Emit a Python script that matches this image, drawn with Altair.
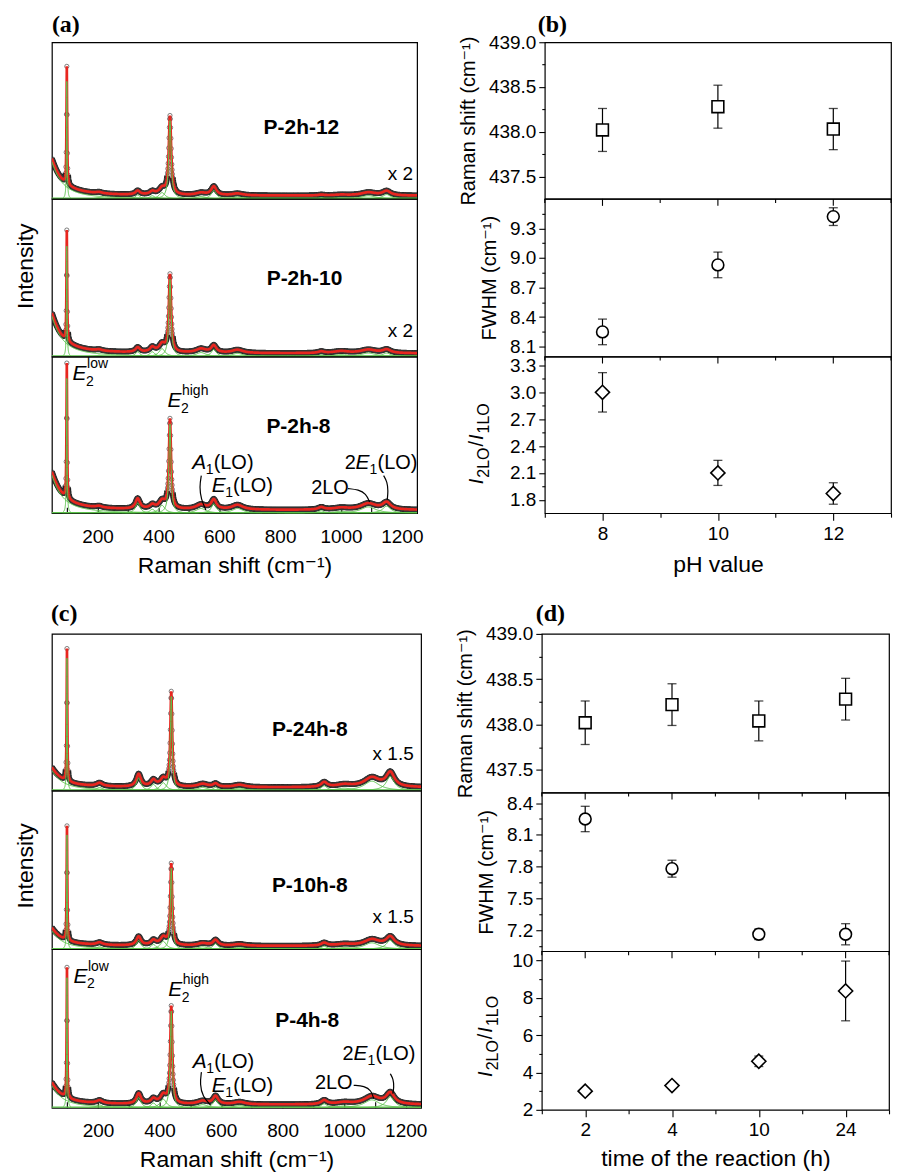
import altair as alt
import numpy as np
import pandas as pd

SANS = "Liberation Sans, Arial, DejaVu Sans, sans-serif"
SERIF = "Liberation Serif, Times New Roman, serif"
RED = "#e8261f"
GREEN = "#5cc24c"

# ---------------- Raman spectra: Lorentzian fit components ----------------
# centre (cm-1) and half width (cm-1); None -> E2(high) width = FWHM/2 from panels (b)/(d)
peak_center = [20, 99, 205, 332, 380, 412, 438, 540, 582, 660, 935, 1000, 1090, 1150]
peak_hwhm = [40, 1.2, 12, 9, 10, 12, None, 20, 10, 22, 12, 30, 30, 16]

# amplitudes as fraction of the sub-panel height
amp_2h12 = [0.37, 0.75, 0.008, 0.025, 0.02, 0.04, 0.50, 0.015, 0.055, 0.012, 0.005, 0.005, 0.02, 0.028]
amp_2h10 = [0.40, 0.70, 0.008, 0.03, 0.03, 0.05, 0.49, 0.025, 0.045, 0.02, 0.01, 0.012, 0.022, 0.022]
amp_2h8 = [0.38, 0.86, 0.01, 0.065, 0.025, 0.05, 0.57, 0.03, 0.06, 0.03, 0.015, 0.012, 0.04, 0.045]
amp_24h8 = [0.20, 0.845, 0.02, 0.08, 0.04, 0.05, 0.60, 0.02, 0.02, 0.015, 0.03, 0.015, 0.06, 0.09]
amp_10h8 = [0.18, 0.72, 0.015, 0.055, 0.03, 0.05, 0.51, 0.015, 0.035, 0.01, 0.018, 0.01, 0.04, 0.055]
amp_4h8 = [0.22, 0.82, 0.018, 0.065, 0.03, 0.055, 0.61, 0.02, 0.05, 0.015, 0.025, 0.012, 0.05, 0.07]
base_level = 0.02

# ---------------- panel (b): pH series ----------------
ph_values = [8, 10, 12]
ph_ticks_major = [8, 10, 12]
ph_ticks_minor = [7, 9, 11, 13]
ph_shift = [438.02, 438.28, 438.03]
ph_shift_err = [0.24, 0.24, 0.23]
ph_fwhm = [8.25, 8.93, 9.42]
ph_fwhm_err = [0.13, 0.13, 0.09]
ph_ratio = [3.00, 2.10, 1.87]
ph_ratio_err = [0.22, 0.14, 0.12]

# ---------------- panel (d): reaction-time series ----------------
time_labels = ["2", "4", "10", "24"]
time_pos = [1, 2, 3, 4]
time_ticks_minor = [0.5, 1.5, 2.5, 3.5, 4.5]
t_shift = [438.02, 438.22, 438.04, 438.28]
t_shift_err = [0.24, 0.23, 0.22, 0.23]
t_fwhm = [8.25, 7.78, 7.16, 7.16]
t_fwhm_err = [0.12, 0.08, 0.05, 0.10]
t_ratio = [3.0, 3.3, 4.6, 8.37]
t_ratio_err = [0.12, 0.12, 0.28, 1.6]

spectra = {
    "P-2h-12": (amp_2h12, ph_fwhm[2]),
    "P-2h-10": (amp_2h10, ph_fwhm[1]),
    "P-2h-8": (amp_2h8, ph_fwhm[0]),
    "P-24h-8": (amp_24h8, t_fwhm[3]),
    "P-10h-8": (amp_10h8, t_fwhm[2]),
    "P-4h-8": (amp_4h8, t_fwhm[1]),
}

X_DOM = [50, 1250]
x_grid = np.arange(50.0, 1250.0 + 0.01, 1.0)


def lor(x, c, w, h):
    return h / (1.0 + ((x - c) / w) ** 2)


def fit_parts(name):
    amps, fw = spectra[name]
    widths = [fw / 2.0 if w is None else w for w in peak_hwhm]
    total = np.full_like(x_grid, base_level)
    comps = []
    for i, (c, w, h) in enumerate(zip(peak_center, widths, amps)):
        total = total + lor(x_grid, c, w, h)
        lo, hi = max(50.0, c - 10 * w), min(1250.0, c + 10 * w)
        xs = np.arange(lo, hi + 1e-9, min(w / 5.0, 2.0))
        comps.append(pd.DataFrame({"x": xs.round(2), "y": lor(xs, c, w, h).round(4), "comp": i}))
    obs = pd.DataFrame({"x": x_grid, "y": total.round(4)})
    # dark band of overlapping data points: broken at the two sharp E2 lines
    steep = (np.abs(x_grid - 99) < 4) | (np.abs(x_grid - 438) < 9)
    seg = np.cumsum(np.r_[0, np.diff(steep.astype(int)) != 0])
    band = obs[~steep].assign(seg=seg[~steep])
    return obs, band, pd.concat(comps, ignore_index=True)


ONE = pd.DataFrame({"a": [0]})


def letter(txt, dx, dy):
    return alt.Chart(ONE).mark_text(text=txt, font=SERIF, fontSize=24, fontWeight="bold",
                                    align="left", baseline="alphabetic", color="black").encode(
        x=alt.value(dx), y=alt.value(dy))


# annotation pieces: (text, dx px, dy px, style)
piece_defs = {
    "E2low": [("E", 0, 0, "it"), ("2", 13.5, 6, "sm"), ("low", 14.5, -12, "sm")],
    "E2high": [("E", 0, 0, "it"), ("2", 13.5, 6, "sm"), ("high", 14.5, -12, "sm")],
    "A1LO": [("A", 0, 0, "it"), ("1", 13.5, 5, "sm"), ("(LO)", 21.5, 0, "rg")],
    "E1LO": [("E", 0, 0, "it"), ("1", 13.5, 5, "sm"), ("(LO)", 21.5, 0, "rg")],
    "2LO": [("2LO", 0, 0, "rg")],
    "2E1LO": [("2", 0, 0, "rg"), ("E", 11, 0, "it"), ("1", 25, 5, "sm"), ("(LO)", 33, 0, "rg")],
}
anchors_a = {"E2low": (118, 0.85), "E2high": (430, 0.677), "A1LO": (511, 0.285),
             "E1LO": (575, 0.136), "2LO": (902, 0.121), "2E1LO": (1012, 0.285)}
anchors_c = {"E2low": (120, 0.79), "E2high": (428, 0.707), "A1LO": (508, 0.251),
             "E1LO": (570, 0.10), "2LO": (905, 0.121), "2E1LO": (995, 0.30)}
leaders_a = [[(541, 0.24), (535, 0.17), (540, 0.09), (556, 0.02)],
             [(1023, 0.157), (1058, 0.150), (1082, 0.125), (1094, 0.072)],
             [(1140, 0.24), (1152, 0.20), (1155, 0.14), (1152, 0.085)]]
leaders_c = [[(536, 0.225), (531, 0.15), (540, 0.07), (566, 0.017)],
             [(1031, 0.142), (1066, 0.138), (1088, 0.11), (1096, 0.059)],
             [(1150, 0.215), (1160, 0.18), (1162, 0.13), (1158, 0.09)]]


def spectrum_panel(name, sc_label, name_pos, sc_pos, width, height, xaxis=None, yaxis=None,
                   anchors=None, leaders=None, let=None):
    obs, band, comps = fit_parts(name)
    X = alt.X("x:Q", scale=alt.Scale(domain=X_DOM, nice=False, zero=False), axis=xaxis)
    Y = alt.Y("y:Q", scale=alt.Scale(domain=[0, 1], nice=False, zero=False), axis=yaxis)
    layers = [
        alt.Chart(band).mark_line(color="#1c1c1c", strokeWidth=6, clip=True).encode(
            x=X, y=Y, detail="seg:N"),
        alt.Chart(obs).mark_point(shape="circle", size=18, filled=False, color="#3a3a3a",
                                  strokeWidth=0.7, opacity=0.9, clip=True).encode(x=X, y=Y),
        alt.Chart(pd.DataFrame({"y": [0.004]})).mark_rule(color=GREEN, strokeWidth=1.3).encode(y=Y),
        alt.Chart(obs).mark_line(color=RED, strokeWidth=2.7, clip=True).encode(x=X, y=Y),
        alt.Chart(comps).mark_line(color=GREEN, strokeWidth=1.0, clip=True).encode(
            x=X, y=Y, detail="comp:N"),
        alt.Chart(pd.DataFrame({"x": [name_pos[0]], "y": [name_pos[1]], "t": [name]})).mark_text(
            font=SANS, fontSize=21, fontWeight="bold", align="center", baseline="middle",
            color="black").encode(x=X, y=Y, text="t:N"),
    ]
    if sc_label:
        layers.append(alt.Chart(pd.DataFrame({"x": [sc_pos[0]], "y": [sc_pos[1]], "t": [sc_label]})).mark_text(
            font=SANS, fontSize=19, align="right", baseline="middle", color="black").encode(
            x=X, y=Y, text="t:N"))
    if anchors:
        rows = []
        for key, (ax, ay) in anchors.items():
            for txt, dx, dy, st in piece_defs[key]:
                rows.append({"x": ax + dx * 1200.0 / width, "y": ay - dy / height, "t": txt, "st": st})
        adf = pd.DataFrame(rows)
        styles = {"it": dict(fontSize=21, fontStyle="italic"), "rg": dict(fontSize=20),
                  "sm": dict(fontSize=14)}
        for st, kw in styles.items():
            layers.append(alt.Chart(adf[adf.st == st]).mark_text(
                font=SANS, align="left", baseline="alphabetic", color="black", **kw).encode(
                x=X, y=Y, text="t:N"))
    if leaders:
        rows = []
        for i, pts in enumerate(leaders):
            for j, (lx, ly) in enumerate(pts):
                rows.append({"x": lx, "y": ly, "k": i, "o": j})
        layers.append(alt.Chart(pd.DataFrame(rows)).mark_line(
            color="black", strokeWidth=1.2, interpolate="basis").encode(
            x=X, y=Y, detail="k:N", order="o:Q"))
    if let:
        layers.append(letter(*let))
    return alt.layer(*layers).properties(width=width, height=height)


def spec_xaxis():
    return alt.Axis(values=list(range(100, 1201, 100)),
                    labelExpr="datum.value >= 200 && datum.value % 200 == 0 ? datum.label : ''",
                    tickSize={"expr": "-6"}, labelPadding=20, labelFontSize=19,
                    title="Raman shift (cm\u207b\u00b9)", titleFontSize=23, titlePadding=8, format="d")


def spec_yaxis(title_y):
    return alt.Axis(title="Intensity", labels=False, ticks=False, domain=False, titleFontSize=23,
                    titlePadding=14, titleY=title_y)


def spectra_block(names, scales, name_pos, sc_pos, width, heights, anchors, leaders, let, title_y):
    charts = []
    for i, nm in enumerate(names):
        charts.append(spectrum_panel(
            nm, scales[i], name_pos[i], sc_pos[i] if i < len(sc_pos) else None, width, heights[i],
            xaxis=spec_xaxis() if i == 2 else None,
            yaxis=spec_yaxis(title_y) if i == 1 else None,
            anchors=anchors if i == 2 else None,
            leaders=leaders if i == 2 else None,
            let=let if i == 0 else None))
    return alt.vconcat(*charts, spacing=0, bounds="flush")


# ---------------- scatter panels ----------------
def major_test(start, step):
    return (f"abs((datum.value - ({start})) / {step} - round((datum.value - ({start})) / {step})) < 0.01")


def y_axis(title, values, start, step, fmt):
    t = major_test(start, step)
    return alt.Axis(values=values, format=fmt, labelExpr=f"({t}) ? datum.label : ''",
                    tickSize={"condition": {"test": t, "value": 6}, "value": 3},
                    title=title, titleFontSize=20, titlePadding=10, labelFontSize=19, labelPadding=3)


def ratio_title(x_main, x_sub, y_start):
    pieces = [("I", "italic", 20, 0.278), ("2LO", "normal", 16, 1.89), ("/", "normal", 20, 0.278),
              ("I", "italic", 20, 0.278), ("1LO", "normal", 16, 1.89)]
    out = []
    y = y_start
    for txt, style, fs, em in pieces:
        xx = x_sub if fs == 16 else x_main
        out.append(alt.Chart(ONE).mark_text(text=txt, font=SANS, fontSize=fs, fontStyle=style, angle=270,
                                            align="left", baseline="alphabetic", color="black").encode(
            x=alt.value(xx), y=alt.value(y)))
        y -= em * fs + 1
    return out


def divider_ticks(X, major, minor):
    # x-axis ticks drawn where a panel meets the one above it
    out = []
    for vals, ln in ((major, 7), (minor, 4)):
        out.append(alt.Chart(pd.DataFrame({"x": vals})).mark_rule(color="black", strokeWidth=1.1).encode(
            x=X, y=alt.value(0), y2=alt.value(ln)))
    return out


def scatter_panel(xs, val, err, X, ydom, yaxis, shape, size, width, height, extra=()):
    df = pd.DataFrame({"x": xs, "v": val, "lo": np.subtract(val, err), "hi": np.add(val, err)})

    def Y(f):
        return alt.Y(f + ":Q", scale=alt.Scale(domain=ydom, nice=False, zero=False), axis=yaxis)
    base = alt.Chart(df)
    layers = [
        base.mark_rule(color="black", strokeWidth=1.2).encode(x=X, y=Y("lo"), y2="hi:Q"),
        base.mark_tick(orient="horizontal", size=9, thickness=1.3, color="black").encode(x=X, y=Y("lo")),
        base.mark_tick(orient="horizontal", size=9, thickness=1.3, color="black").encode(x=X, y=Y("hi")),
        base.mark_point(shape=shape, size=size, filled=True, fill="white", stroke="black",
                        strokeWidth=1.6, opacity=1).encode(x=X, y=Y("v")),
    ] + list(extra)
    return alt.layer(*layers).properties(width=width, height=height)


def frange(a, b, s):
    return [round(v, 3) for v in np.arange(a, b + s / 2, s)]


# panel (b)
Xb_none = alt.X("x:Q", scale=alt.Scale(domain=[7, 13], nice=False, zero=False), axis=None)
Xb_axis = alt.X("x:Q", scale=alt.Scale(domain=[7, 13], nice=False, zero=False), axis=alt.Axis(
    values=list(range(7, 14)), format="d", labelExpr="datum.value % 2 == 0 ? datum.label : ''",
    tickSize={"condition": {"test": "datum.value % 2 == 0", "value": 7}, "value": 4},
    title="pH value", titleFontSize=23, labelFontSize=19, labelPadding=4, titlePadding=10))
WB = 347
b1 = scatter_panel(ph_values, ph_shift, ph_shift_err, Xb_none, [437.25, 439.0],
                   y_axis("Raman shift (cm\u207b\u00b9)", frange(437.5, 439.0, 0.25), 437.5, 0.5, ".1f"),
                   "square", 140, WB, 157, extra=[letter("(b)", -7, -10)])
b2 = scatter_panel(ph_values, ph_fwhm, ph_fwhm_err, Xb_none, [8.0, 9.6],
                   y_axis("FWHM (cm\u207b\u00b9)", frange(8.1, 9.45, 0.15), 8.1, 0.3, ".1f"),
                   "circle", 140, WB, 158,
                   extra=divider_ticks(Xb_none, ph_ticks_major, ph_ticks_minor))
b3 = scatter_panel(ph_values, ph_ratio, ph_ratio_err, Xb_axis, [1.65, 3.4],
                   y_axis(None, frange(1.8, 3.3, 0.15), 1.8, 0.3, ".1f"),
                   "diamond", 200, WB, 157,
                   extra=ratio_title(-62, -56, 128) + divider_ticks(Xb_axis, ph_ticks_major, ph_ticks_minor))
panel_b = alt.vconcat(b1, b2, b3, spacing=0, bounds="flush")

# panel (d)
time_expr = " : ".join(f"datum.value == {p} ? '{l}'" for p, l in zip(time_pos, time_labels)) + " : ''"
Xd_none = alt.X("x:Q", scale=alt.Scale(domain=[0.5, 4.5], nice=False, zero=False), axis=None)
Xd_axis = alt.X("x:Q", scale=alt.Scale(domain=[0.5, 4.5], nice=False, zero=False), axis=alt.Axis(
    values=frange(0.5, 4.5, 0.5), labelExpr=time_expr,
    tickSize={"condition": {"test": "datum.value % 1 == 0", "value": 7}, "value": 4},
    title="time of the reaction (h)", titleFontSize=23, labelFontSize=19, labelPadding=4, titlePadding=8))
WD = 348
d1 = scatter_panel(time_pos, t_shift, t_shift_err, Xd_none, [437.25, 439.0],
                   y_axis("Raman shift (cm\u207b\u00b9)", frange(437.5, 439.0, 0.25), 437.5, 0.5, ".1f"),
                   "square", 140, WD, 159, extra=[letter("(d)", -6, -13)])
d2 = scatter_panel(time_pos, t_fwhm, t_fwhm_err, Xd_none, [7.0, 8.5],
                   y_axis("FWHM (cm\u207b\u00b9)", frange(7.05, 8.4, 0.15), 7.2, 0.3, ".1f"),
                   "circle", 140, WD, 159,
                   extra=divider_ticks(Xd_none, time_pos, time_ticks_minor))
d3 = scatter_panel(time_pos, t_ratio, t_ratio_err, Xd_axis, [2, 10.5],
                   y_axis(None, list(range(2, 11)), 2, 2, "d"),
                   "diamond", 200, WD, 159,
                   extra=ratio_title(-50, -44, 126) + divider_ticks(Xd_axis, time_pos, time_ticks_minor))
panel_d = alt.vconcat(d1, d2, d3, spacing=0, bounds="flush")

# panels (a) and (c)
panel_a = spectra_block(["P-2h-12", "P-2h-10", "P-2h-8"], ["x 2", "x 2", ""],
                        [(870, 0.45), (880, 0.49), (860, 0.55)], [(1237, 0.16), (1237, 0.165)],
                        366, [157, 158, 157], anchors_a, leaders_a, ("(a)", 0, -10), 67)
panel_c = spectra_block(["P-24h-8", "P-10h-8", "P-4h-8"], ["x 1.5", "x 1.5", ""],
                        [(888, 0.385), (888, 0.40), (880, 0.55)], [(1226, 0.235), (1226, 0.2)],
                        370, [157, 159, 159], anchors_c, leaders_c, ("(c)", -1, -13), 75)

row1 = alt.hconcat(panel_a, panel_b, spacing=33)
row2 = alt.hconcat(panel_c, panel_d, spacing=26)

chart = alt.vconcat(row1, row2, spacing=23).properties(
    padding={"left": 6, "top": 3, "right": 0, "bottom": 0}
).configure_view(stroke="black", strokeWidth=1.2).configure_axis(
    labelFont=SANS, titleFont=SANS, labelColor="black", titleColor="black", tickColor="black",
    tickWidth=1.1, domain=False, grid=False, titleFontWeight="normal"
)

chart.save("out.html", embed_options={"renderer": "svg", "actions": False})
